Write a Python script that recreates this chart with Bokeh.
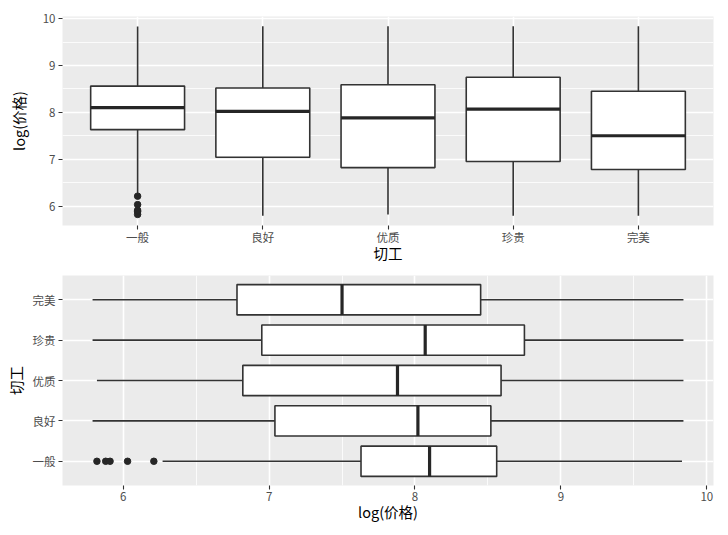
from bokeh.plotting import figure
from bokeh.layouts import column
from bokeh.models import Range1d, FixedTicker
from bokeh.embed import file_html
from bokeh.resources import INLINE

# ---- data ----
cuts = ["一般", "良好", "优质", "珍贵", "完美"]
q1 = [7.63, 7.04, 6.82, 6.95, 6.78]
median = [8.10, 8.02, 7.88, 8.07, 7.50]
q3 = [8.56, 8.52, 8.59, 8.75, 8.45]
whisker_low = [6.27, 5.79, 5.82, 5.79, 5.79]
whisker_high = [9.83, 9.84, 9.84, 9.84, 9.84]
outlier_cut = ["一般", "一般", "一般", "一般", "一般"]
outlier_values = [5.82, 5.88, 5.91, 6.03, 6.21]
value_ticks = [6, 7, 8, 9, 10]
value_label = "log(价格)"
cut_label = "切工"

FONT = "Noto Sans CJK SC"
BOX_W = 0.75
pos = [i + 1 for i in range(len(cuts))]
outlier_pos = [cuts.index(c) + 1 for c in outlier_cut]
cat_range = (0.4, len(cuts) + 0.6)
val_range = (5.584, 10.046)
LINE = "#333333"


def style(p, cat_axis, val_axis, cat_grid, val_grid):
    p.background_fill_color = "#EBEBEB"
    p.border_fill_color = "white"
    p.outline_line_color = None
    for ax in (cat_axis, val_axis):
        ax.axis_line_color = None
        ax.major_tick_line_color = LINE
        ax.major_tick_line_width = 1.1
        ax.major_tick_out = 4
        ax.major_tick_in = 0
        ax.minor_tick_line_color = None
        ax.major_label_text_font = FONT
        ax.major_label_text_font_size = "11.5px"
        ax.major_label_text_color = "#4D4D4D"
        ax.major_label_standoff = 3
        ax.axis_label_text_font = FONT
        ax.axis_label_text_font_size = "14.5px"
        ax.axis_label_text_font_style = "normal"
        ax.axis_label_text_color = "black"
    cat_ticker = FixedTicker(ticks=pos)
    cat_axis.ticker = cat_ticker
    cat_axis.major_label_overrides = {p_: c for p_, c in zip(pos, cuts)}
    val_ticker = FixedTicker(ticks=value_ticks,
                             minor_ticks=[v + 0.5 for v in value_ticks[:-1]])
    val_axis.ticker = val_ticker
    cat_grid.ticker = cat_ticker
    val_grid.ticker = val_ticker
    for g in (cat_grid, val_grid):
        g.grid_line_color = "white"
        g.grid_line_width = 1.6
    val_grid.minor_grid_line_color = "white"
    val_grid.minor_grid_line_width = 0.8


# ---- top: vertical boxplots ----
p1 = figure(width=728, height=268, frame_width=651, frame_height=209,
            x_range=Range1d(*cat_range), y_range=Range1d(*val_range),
            output_backend="svg", toolbar_location=None,
            min_border_left=62, min_border_right=15,
            min_border_top=16, min_border_bottom=43)
style(p1, p1.xaxis[0], p1.yaxis[0], p1.xgrid[0], p1.ygrid[0])
p1.xaxis.axis_label = cut_label
p1.yaxis.axis_label = value_label
p1.xaxis.major_label_standoff = -1
p1.xaxis.axis_label_standoff = -6
p1.yaxis.axis_label_standoff = 11

p1.segment(x0=pos, y0=q3, x1=pos, y1=whisker_high, line_color=LINE, line_width=1.6)
p1.segment(x0=pos, y0=q1, x1=pos, y1=whisker_low, line_color=LINE, line_width=1.6)
p1.vbar(x=pos, bottom=q1, top=q3, width=BOX_W, fill_color="white",
        line_color=LINE, line_width=1.6)
p1.segment(x0=[x - BOX_W / 2 for x in pos], y0=median,
           x1=[x + BOX_W / 2 for x in pos], y1=median,
           line_color="#262626", line_width=3.2)
p1.scatter(x=outlier_pos, y=outlier_values, size=6.5, fill_color="#262626",
           line_color="#262626")

# ---- bottom: horizontal boxplots ----
p2 = figure(width=728, height=267, frame_width=651, frame_height=210,
            y_range=Range1d(*cat_range), x_range=Range1d(*val_range),
            output_backend="svg", toolbar_location=None,
            min_border_left=62, min_border_right=15,
            min_border_top=7, min_border_bottom=50)
style(p2, p2.yaxis[0], p2.xaxis[0], p2.ygrid[0], p2.xgrid[0])
p2.xaxis.axis_label = value_label
p2.yaxis.axis_label = cut_label
p2.xaxis.major_label_standoff = 2
p2.xaxis.axis_label_standoff = -3
p2.yaxis.axis_label_standoff = 4

p2.segment(y0=pos, x0=q3, y1=pos, x1=whisker_high, line_color=LINE, line_width=1.6)
p2.segment(y0=pos, x0=q1, y1=pos, x1=whisker_low, line_color=LINE, line_width=1.6)
p2.hbar(y=pos, left=q1, right=q3, height=BOX_W, fill_color="white",
        line_color=LINE, line_width=1.6)
p2.segment(y0=[y - BOX_W / 2 for y in pos], x0=median,
           y1=[y + BOX_W / 2 for y in pos], x1=median,
           line_color="#262626", line_width=3.2)
p2.scatter(y=outlier_pos, x=outlier_values, size=6.5, fill_color="#262626",
           line_color="#262626")

layout = column(p1, p2, spacing=0)
open("out.html", "w").write(file_html(layout, INLINE))
